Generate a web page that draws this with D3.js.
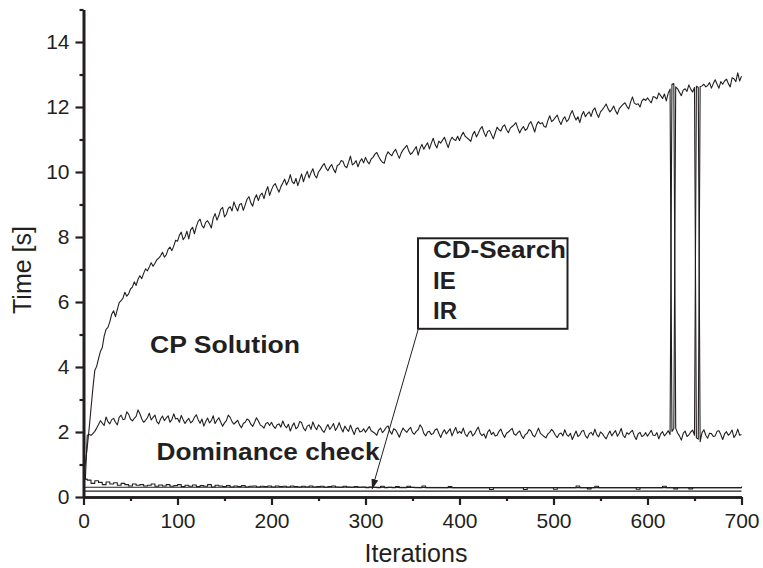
<!DOCTYPE html>
<html>
<head>
<meta charset="utf-8">
<script src="https://cdn.jsdelivr.net/npm/d3@7"></script>
<style>
  body { margin: 0; background: #fff; }
  svg { display: block; font-family: "Liberation Sans", Arial, sans-serif; }
</style>
</head>
<body>
<svg id="chart" width="763" height="568"></svg>
<script>
/* global d3 */

// CP solution and dominance check read every 2 iterations, 0..700
const iterations = d3.range(0, 701, 2);
// CD-Search read every 4 iterations
const iterations4 = d3.range(0, 701, 4);

const cpSolution = [
  0.75, 1.05, 1.54, 2.10, 2.73, 3.35, 3.89, 4.02, 4.26, 4.48, 4.60, 4.95, 5.16, 5.22, 5.39, 5.62, 5.73, 5.55, 5.77, 5.98, 6.04, 6.12, 6.30, 6.18, 6.25,
  6.40, 6.46, 6.62, 6.51, 6.70, 6.81, 6.72, 6.88, 7.02, 6.96, 7.08, 7.21, 7.10, 7.19, 7.30, 7.35, 7.42, 7.53, 7.38, 7.45, 7.62, 7.69, 7.58, 7.72, 7.90,
  7.87, 8.05, 8.15, 7.92, 8.00, 8.18, 7.94, 8.22, 8.30, 8.10, 8.32, 8.48, 8.55, 8.35, 8.28, 8.45, 8.50, 8.40, 8.28, 8.58, 8.72, 8.52, 8.66, 8.85, 8.91,
  8.62, 8.70, 8.88, 8.93, 8.80, 9.08, 8.92, 8.80, 9.00, 9.03, 8.82, 8.99, 9.16, 9.24, 9.05, 8.95, 9.18, 9.30, 9.12, 9.29, 9.35, 9.18, 9.40, 9.55, 9.28,
  9.45, 9.58, 9.64, 9.50, 9.38, 9.55, 9.66, 9.78, 9.60, 9.72, 9.92, 9.70, 9.64, 9.80, 9.58, 9.76, 9.94, 9.70, 9.88, 10.02, 9.82, 9.98, 10.10, 9.90, 9.82,
  10.00, 10.08, 10.18, 10.26, 10.12, 10.04, 10.15, 10.23, 10.08, 9.98, 10.20, 10.23, 10.35, 10.33, 10.18, 10.13, 10.30, 10.49, 10.22, 10.26, 10.35, 10.16, 10.32, 10.41, 10.28,
  10.45, 10.32, 10.25, 10.40, 10.45, 10.55, 10.60, 10.48, 10.37, 10.30, 10.27, 10.50, 10.62, 10.55, 10.50, 10.62, 10.70, 10.55, 10.42, 10.58, 10.68, 10.75, 10.82, 10.65, 10.54,
  10.60, 10.69, 10.78, 10.52, 10.72, 10.85, 10.70, 10.81, 10.90, 10.71, 10.88, 11.04, 10.85, 10.74, 10.95, 10.89, 10.98, 11.07, 10.90, 10.75, 10.95, 11.07, 11.00, 10.97, 11.10,
  10.97, 11.12, 11.22, 11.10, 11.05, 11.00, 10.94, 11.15, 11.25, 11.08, 11.19, 11.32, 11.40, 11.22, 11.09, 11.25, 11.28, 11.15, 11.02, 11.20, 11.38, 11.30, 11.26, 11.40, 11.45,
  11.30, 11.21, 11.35, 11.40, 11.45, 11.52, 11.35, 11.20, 11.32, 11.40, 11.28, 11.33, 11.48, 11.55, 11.40, 11.23, 11.45, 11.55, 11.48, 11.52, 11.40, 11.38, 11.58, 11.73, 11.55,
  11.60, 11.68, 11.75, 11.58, 11.46, 11.62, 11.70, 11.55, 11.61, 11.78, 11.89, 11.72, 11.60, 11.70, 11.52, 11.75, 11.86, 11.70, 11.79, 11.85, 11.71, 11.90, 11.97, 11.80, 11.68,
  11.85, 11.92, 12.00, 12.09, 11.95, 11.85, 11.92, 12.03, 11.88, 11.78, 11.95, 12.02, 12.08, 12.13, 12.02, 11.94, 12.15, 12.31, 12.12, 12.08, 12.10, 12.00, 12.18, 12.25, 12.20,
  12.28, 12.20, 12.13, 12.32, 12.30, 12.25, 12.43, 12.35, 12.26, 12.40, 12.19, 12.42, 12.55, 2.02, 2.10, 12.62, 12.56, 12.45, 12.35, 12.52, 12.56, 12.48, 12.68, 12.55, 12.46,
  12.60, 1.82, 1.78, 12.62, 12.65, 12.70, 12.62, 12.66, 12.75, 12.58, 12.72, 12.84, 12.70, 12.58, 12.78, 12.70, 12.80, 12.86, 12.72, 12.62, 12.90, 12.87, 12.78, 13.05, 12.80,
  12.95
];

const dominanceCheck = [
  0.50, 0.55, 1.90, 1.92, 1.90, 1.95, 2.02, 2.12, 2.23, 2.35, 2.27, 2.20, 2.46, 2.32, 2.25, 2.38, 2.42, 2.30, 2.22, 2.45, 2.52, 2.38, 2.40, 2.62, 2.55,
  2.40, 2.34, 2.42, 2.48, 2.68, 2.56, 2.40, 2.30, 2.36, 2.44, 2.58, 2.37, 2.45, 2.52, 2.32, 2.25, 2.40, 2.49, 2.35, 2.43, 2.50, 2.30, 2.38, 2.56, 2.40,
  2.42, 2.30, 2.51, 2.38, 2.26, 2.35, 2.42, 2.28, 2.33, 2.45, 2.53, 2.38, 2.27, 2.40, 2.18, 2.32, 2.43, 2.28, 2.35, 2.50, 2.26, 2.36, 2.44, 2.30, 2.18,
  2.28, 2.35, 2.52, 2.45, 2.32, 2.24, 2.30, 2.36, 2.22, 2.13, 2.26, 2.30, 2.40, 2.36, 2.24, 2.17, 2.30, 2.44, 2.34, 2.22, 2.18, 2.12, 2.26, 2.29, 2.20,
  2.30, 2.18, 2.11, 2.22, 2.25, 2.15, 2.34, 2.20, 2.13, 2.24, 2.03, 2.18, 2.28, 2.10, 2.15, 2.32, 2.29, 2.12, 2.04, 2.18, 2.22, 2.08, 2.31, 2.16, 2.07,
  2.22, 2.16, 2.05, 1.99, 2.12, 2.23, 2.08, 2.16, 2.26, 2.05, 2.14, 2.29, 2.12, 2.00, 2.18, 2.09, 2.02, 2.21, 2.06, 1.92, 2.10, 2.13, 2.00, 2.02, 2.10,
  1.99, 2.08, 2.17, 2.04, 2.00, 1.96, 1.90, 2.06, 2.12, 1.98, 2.05, 2.14, 2.19, 2.02, 1.93, 2.10, 2.06, 1.96, 1.84, 2.00, 2.12, 2.04, 1.99, 2.08, 2.14,
  1.98, 1.93, 2.02, 2.07, 2.22, 2.14, 1.96, 1.88, 2.00, 2.02, 1.92, 1.95, 2.06, 2.10, 1.96, 1.83, 1.98, 2.07, 1.94, 2.02, 2.10, 1.88, 2.02, 2.14, 1.96,
  2.02, 1.96, 2.12, 1.94, 1.86, 1.98, 2.03, 1.88, 1.94, 2.06, 2.15, 1.96, 1.89, 1.94, 1.81, 2.00, 2.07, 1.92, 1.99, 1.88, 1.90, 2.02, 2.09, 1.94, 1.83,
  1.96, 2.00, 2.06, 2.11, 1.94, 1.90, 1.98, 2.03, 1.88, 1.80, 1.92, 1.96, 2.08, 2.03, 1.90, 1.85, 1.98, 2.12, 1.96, 1.91, 1.86, 1.82, 1.94, 1.99, 2.08,
  2.01, 1.90, 1.83, 1.94, 1.97, 1.88, 2.07, 1.92, 1.87, 1.96, 1.77, 1.90, 2.03, 1.86, 1.91, 2.02, 2.05, 1.88, 1.81, 1.94, 1.99, 1.90, 2.09, 1.92, 1.85,
  2.00, 1.95, 1.86, 1.79, 1.92, 2.03, 1.88, 1.97, 2.04, 1.87, 1.96, 2.11, 1.90, 1.83, 1.98, 1.93, 2.00, 2.05, 1.88, 1.77, 1.94, 1.99, 1.86, 1.89, 1.98,
  1.87, 1.96, 2.05, 1.90, 1.89, 1.98, 1.79, 1.94, 2.01, 1.88, 1.95, 2.04, 1.92, 12.70, 12.72, 2.12, 1.97, 1.88, 1.75, 1.96, 2.03, 1.86, 1.91, 2.00, 2.06,
  1.90, 12.64, 12.60, 1.70, 1.98, 2.07, 1.90, 1.81, 1.96, 1.95, 1.86, 1.88, 2.02, 2.04, 1.92, 1.77, 1.94, 2.01, 1.90, 1.96, 2.06, 1.83, 1.92, 2.09, 1.90,
  1.92
];

const cdSearch = [
  0.55, 0.52, 0.42, 0.50, 0.45, 0.38, 0.46, 0.40, 0.44, 0.36, 0.42, 0.38, 0.34, 0.40, 0.36, 0.38, 0.34, 0.36, 0.40, 0.33, 0.37, 0.34, 0.38, 0.33, 0.35,
  0.38, 0.32, 0.36, 0.33, 0.37, 0.32, 0.35, 0.33, 0.38, 0.31, 0.36, 0.34, 0.32, 0.35, 0.31, 0.34, 0.32, 0.35, 0.31, 0.33, 0.34, 0.31, 0.33, 0.32, 0.34,
  0.31, 0.34, 0.32, 0.33, 0.31, 0.34, 0.32, 0.31, 0.33, 0.31, 0.34, 0.31, 0.32, 0.33, 0.30, 0.32, 0.34, 0.31, 0.30, 0.33, 0.31, 0.30, 0.32, 0.30, 0.31,
  0.29, 0.31, 0.30, 0.29, 0.33, 0.29, 0.30, 0.29, 0.32, 0.29, 0.29, 0.33, 0.30, 0.29, 0.29, 0.34, 0.29, 0.29, 0.29, 0.29, 0.29, 0.29, 0.32, 0.29, 0.29,
  0.29, 0.29, 0.29, 0.29, 0.29, 0.29, 0.29, 0.29, 0.23, 0.29, 0.29, 0.29, 0.29, 0.29, 0.29, 0.29, 0.29, 0.23, 0.29, 0.29, 0.29, 0.29, 0.29, 0.29, 0.29,
  0.24, 0.29, 0.29, 0.29, 0.29, 0.29, 0.34, 0.29, 0.29, 0.25, 0.29, 0.33, 0.29, 0.29, 0.29, 0.29, 0.29, 0.29, 0.29, 0.29, 0.29, 0.29, 0.24, 0.29, 0.29,
  0.29, 0.29, 0.29, 0.29, 0.33, 0.29, 0.29, 0.25, 0.29, 0.29, 0.29, 0.25, 0.29, 0.29, 0.29, 0.29, 0.29, 0.29, 0.29, 0.29, 0.29, 0.29, 0.29, 0.29, 0.29,
  0.32
];

// the two flat lines near zero, read every 100 iterations
const coarseIterations = [0, 100, 200, 300, 400, 500, 600, 700];
const ieValues = [0.30, 0.30, 0.30, 0.30, 0.29, 0.29, 0.29, 0.29];
const irValues = [0.18, 0.18, 0.18, 0.18, 0.18, 0.18, 0.18, 0.18];

const xMajorTicks = [0, 100, 200, 300, 400, 500, 600, 700];
const xMinorTicks = [50, 150, 250, 350, 450, 550, 650];
const yMajorTicks = [0, 2, 4, 6, 8, 10, 12, 14];
const yMinorTicks = [1, 3, 5, 7, 9, 11, 13, 15];

const legendLabels = ['CD-Search', 'IE', 'IR'];
// arrow from the legend box down to the CD-Search line
const arrowTail = { iter: 356, value: 5.15 };
const arrowHead = { iter: 307, value: 0.24 };

const ink = '#231f20';

const margin = { top: 9.5, left: 83.5 };
const width = 658;
const height = 487.5;

const svg = d3.select('#chart');
const g = svg.append('g')
  .attr('transform', `translate(${margin.left},${margin.top})`);

const x = d3.scaleLinear().domain([0, 700]).range([0, width]);
const y = d3.scaleLinear().domain([0, 15]).range([height, 0]);

const toPoints = (xs, ys) => xs.map((d, i) => ({ iter: d, value: ys[i] }));

const line = d3.line()
  .x(d => x(d.iter))
  .y(d => y(d.value));

const stepLine = d3.line()
  .curve(d3.curveStepAfter)
  .x(d => x(d.iter))
  .y(d => y(d.value));

// series
const series = [
  { values: toPoints(iterations, cpSolution), gen: line },
  { values: toPoints(iterations, dominanceCheck), gen: line },
  { values: toPoints(iterations4, cdSearch), gen: stepLine },
  { values: toPoints(coarseIterations, ieValues), gen: line },
  { values: toPoints(coarseIterations, irValues), gen: line },
];

g.append('g').attr('class', 'series')
  .selectAll('path')
  .data(series)
  .enter().append('path')
    .attr('fill', 'none')
    .attr('stroke', ink)
    .attr('stroke-width', 1.1)
    .attr('stroke-linejoin', 'round')
    .attr('d', d => d.gen(d.values));

// axes
const styleAxis = (sel) => {
  sel.select('.domain').attr('stroke', ink).attr('stroke-width', 2.6);
  sel.selectAll('.tick line').attr('stroke', ink).attr('stroke-width', 2.2);
  sel.selectAll('.tick text')
    .attr('fill', ink)
    .attr('font-size', '21px');
};

g.append('g')
  .attr('transform', `translate(0,${height})`)
  .call(d3.axisBottom(x).tickValues(xMinorTicks).tickSize(4).tickSizeOuter(0).tickFormat(''))
  .call(styleAxis);

g.append('g')
  .attr('transform', `translate(0,${height})`)
  .call(d3.axisBottom(x).tickValues(xMajorTicks).tickSize(8).tickSizeOuter(0).tickPadding(8))
  .call(styleAxis);

g.append('g')
  .call(d3.axisLeft(y).tickValues(yMinorTicks).tickSize(4).tickSizeOuter(0).tickFormat(''))
  .call(styleAxis);

g.append('g')
  .call(d3.axisLeft(y).tickValues(yMajorTicks).tickSize(8).tickSizeOuter(0).tickPadding(6))
  .call(styleAxis);

// axis titles
svg.append('text')
  .attr('transform', 'translate(31,270) rotate(-90)')
  .attr('text-anchor', 'middle')
  .attr('fill', ink)
  .attr('font-size', '25px')
  .text('Time [s]');

svg.append('text')
  .attr('x', 416)
  .attr('y', 562)
  .attr('text-anchor', 'middle')
  .attr('fill', ink)
  .attr('font-size', '25px')
  .text('Iterations');

// series labels
g.append('text')
  .attr('x', 66.5)
  .attr('y', 343.8)
  .attr('fill', ink)
  .attr('font-size', '23px')
  .attr('font-weight', 'bold')
  .attr('textLength', 150)
  .attr('lengthAdjust', 'spacingAndGlyphs')
  .text('CP Solution');

g.append('text')
  .attr('x', 73)
  .attr('y', 450.5)
  .attr('fill', ink)
  .attr('font-size', '23px')
  .attr('font-weight', 'bold')
  .attr('textLength', 223)
  .attr('lengthAdjust', 'spacingAndGlyphs')
  .text('Dominance check');

// legend box
const legend = g.append('g').attr('transform', 'translate(334.5,228.8)');
legend.append('rect')
  .attr('width', 149.5)
  .attr('height', 90.5)
  .attr('fill', 'none')
  .attr('stroke', ink)
  .attr('stroke-width', 2);

legend.selectAll('text')
  .data(legendLabels)
  .enter().append('text')
    .attr('x', 15)
    .attr('y', (d, i) => 20 + i * 30.5)
    .attr('fill', ink)
    .attr('font-size', '24px')
    .attr('font-weight', 'bold')
    .attr('textLength', d => (d === 'CD-Search' ? 133 : null))
    .attr('lengthAdjust', 'spacingAndGlyphs')
    .text(d => d);

// arrow
svg.append('defs').append('marker')
  .attr('id', 'arrowhead')
  .attr('viewBox', '0 0 10 10')
  .attr('refX', 10)
  .attr('refY', 5)
  .attr('markerWidth', 10)
  .attr('markerHeight', 10)
  .attr('markerUnits', 'userSpaceOnUse')
  .attr('orient', 'auto')
  .append('path')
    .attr('d', 'M0,1.5L10,5L0,8.5Z')
    .attr('fill', ink);

g.append('line')
  .attr('x1', x(arrowTail.iter))
  .attr('y1', y(arrowTail.value))
  .attr('x2', x(arrowHead.iter))
  .attr('y2', y(arrowHead.value))
  .attr('stroke', ink)
  .attr('stroke-width', 1)
  .attr('marker-end', 'url(#arrowhead)');
</script>
</body>
</html>
